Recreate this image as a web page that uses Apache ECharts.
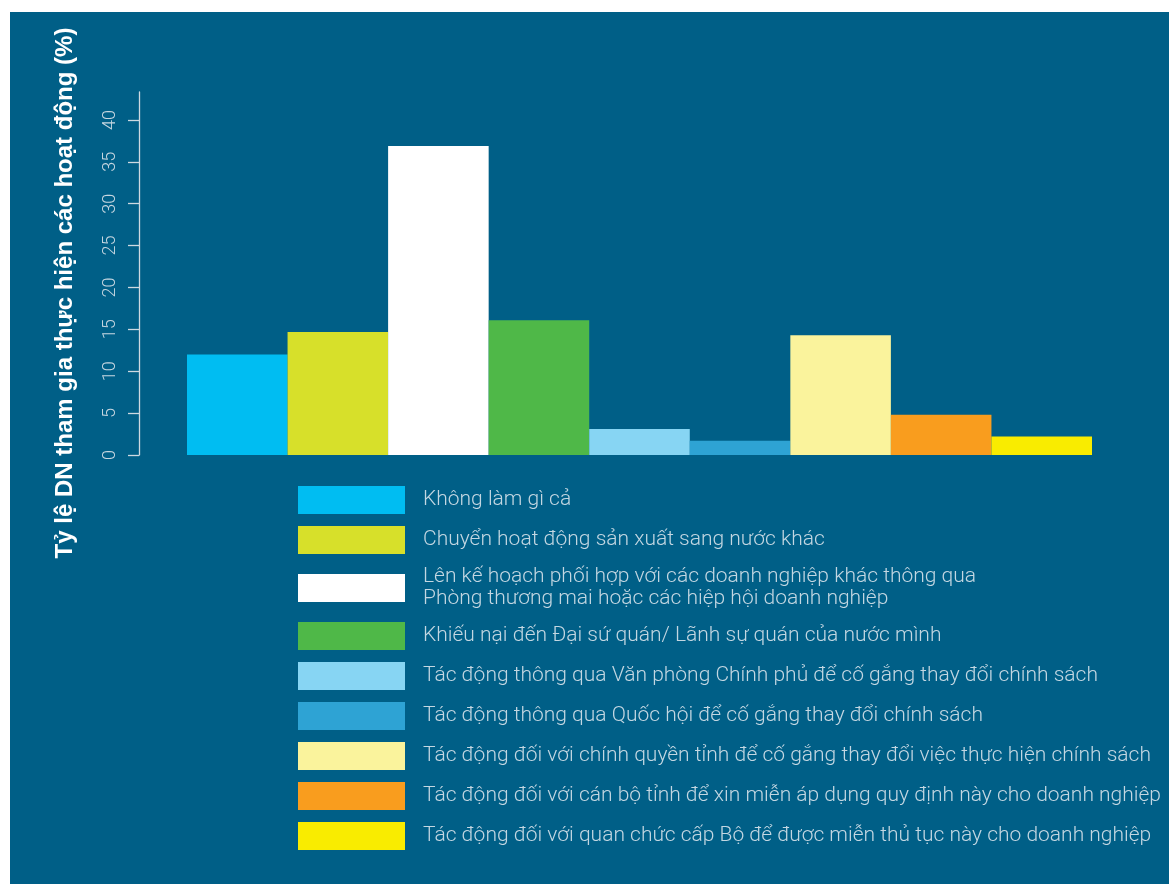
<!DOCTYPE html>
<html>
<head>
<meta charset="utf-8">
<script src="https://cdn.jsdelivr.net/npm/echarts@6/dist/echarts.min.js"></script>
<style>
html,body{margin:0;padding:0;background:#ffffff;width:1169px;height:884px;overflow:hidden;}
#chart{position:absolute;left:10px;top:12px;width:1159px;height:872px;}
</style>
</head>
<body>
<div id="chart"></div>
<script>
// Data
const categories = [
  "Không làm gì cả",
  "Chuyển hoạt động sản xuất sang nước khác",
  "Lên kế hoạch phối hợp với các doanh nghiệp khác thông qua\nPhòng thương mai hoặc các hiệp hội doanh nghiệp",
  "Khiếu nại đến Đại sứ quán/ Lãnh sự quán của nước mình",
  "Tác động thông qua Văn phòng Chính phủ để cố gắng thay đổi chính sách",
  "Tác động thông qua Quốc hội để cố gắng thay đổi chính sách",
  "Tác động đối với chính quyền tỉnh để cố gắng thay đổi việc thực hiện chính sách",
  "Tác động đối với cán bộ tỉnh để xin miễn áp dụng quy định này cho doanh nghiệp",
  "Tác động đối với quan chức cấp Bộ để được miễn thủ tục này cho doanh nghiệp"
];
const values = [12.0, 14.7, 36.9, 16.1, 3.1, 1.7, 14.3, 4.8, 2.2];
const colors = ["#00bdf2", "#d7e02a", "#ffffff", "#4fb848", "#87d5f3", "#2ea3d4", "#faf39c", "#f99d1e", "#f9ec00"];
const yTicks = [0, 5, 10, 15, 20, 25, 30, 35, 40];
const yTitle = "Tỷ lệ DN tham gia thực hiện các hoạt động (%)";

const chart = echarts.init(document.getElementById('chart'));
const series = categories.map((name, i) => ({
  name: name,
  type: 'bar',
  stack: 'all',
  barWidth: '100%',
  itemStyle: { color: colors[i] },
  data: values.map((v, j) => (j === i ? v : '-'))
}));

chart.setOption({
  backgroundColor: '#005f87',
  animation: false,
  grid: { left: 177, width: 905, top: 80, height: 363 },
  xAxis: {
    type: 'category',
    data: categories.map((c, i) => 'c' + i),
    show: false
  },
  yAxis: {
    type: 'value',
    min: 0,
    max: 43.34,
    interval: 5,
    offset: 48,
    splitLine: { show: false },
    axisLine: { show: true, lineStyle: { color: '#cdd9e1', width: 1.3 } },
    axisTick: { show: true, length: 11, customValues: yTicks, lineStyle: { color: '#cdd9e1', width: 1.3 } },
    axisLabel: {
      customValues: yTicks,
      rotate: 90,
      margin: 20,
      color: '#c5d6e0',
      fontFamily: 'Roboto',
      fontWeight: 300,
      fontSize: 18
    }
  },
  legend: {
    orient: 'vertical',
    left: 283,
    top: 469,
    icon: 'rect',
    itemWidth: 107,
    itemHeight: 28,
    itemGap: 12,
    selectedMode: false,
    data: categories,
    textStyle: {
      color: '#c3d7e2',
      fontFamily: 'Roboto',
      fontWeight: 300,
      fontSize: 21,
      lineHeight: 22,
      padding: [0, 0, 0, 13]
    }
  },
  graphic: [{
    type: 'text',
    x: 55,
    y: 281,
    rotation: Math.PI / 2,
    style: {
      text: yTitle,
      fill: '#ffffff',
      font: 'bold 24px "Liberation Sans", Arial, sans-serif',
      align: 'center',
      verticalAlign: 'middle'
    }
  }],
  series: series
});
</script>
</body>
</html>
